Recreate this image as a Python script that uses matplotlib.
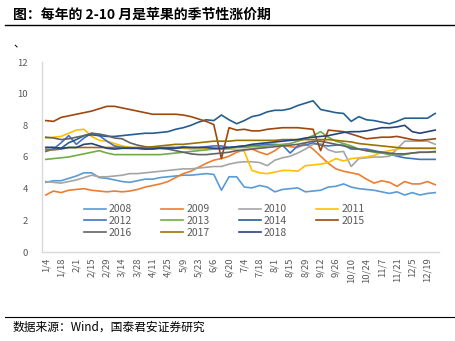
import matplotlib
matplotlib.use("Agg")
import matplotlib.pyplot as plt
from matplotlib.lines import Line2D

plt.rcParams['font.family'] = ['Noto Sans CJK SC', 'DejaVu Sans']

weeks = ["1/4", "1/11", "1/18", "1/25", "2/1", "2/8", "2/15", "2/22", "2/29", "3/7",
         "3/14", "3/21", "3/28", "4/4", "4/11", "4/18", "4/25", "5/2", "5/9", "5/16",
         "5/23", "5/30", "6/6", "6/13", "6/20", "6/27", "7/4", "7/11", "7/18", "7/25",
         "8/1", "8/8", "8/15", "8/22", "8/29", "9/5", "9/12", "9/19", "9/26", "10/3",
         "10/10", "10/17", "10/24", "10/31", "11/7", "11/14", "11/21", "11/28", "12/5", "12/12",
         "12/19", "12/26"]

y2008 = [4.4, 4.5, 4.5, 4.65, 4.8, 5.0, 5.0, 4.7, 4.65, 4.55, 4.45, 4.4, 4.5, 4.6, 4.6, 4.7,
         4.75, 4.8, 4.85, 4.85, 4.9, 4.95, 4.9, 3.9, 4.75, 4.75, 4.1, 4.05, 4.2, 4.1, 3.8, 3.95,
         4.0, 4.05, 3.8, 3.85, 3.9, 4.1, 4.15, 4.3, 4.1, 4.0, 3.95, 3.9, 3.8, 3.7, 3.8, 3.6,
         3.75, 3.6, 3.7, 3.75]
y2009 = [3.6, 3.85, 3.75, 3.9, 3.95, 4.0, 3.9, 3.85, 3.8, 3.85, 3.8, 3.85, 3.95, 4.1, 4.2, 4.3,
         4.45, 4.7, 4.95, 5.1, 5.35, 5.6, 5.8, 5.9, 6.05, 6.3, 6.45, 6.5, 6.3, 6.15, 6.4, 6.75,
         6.65, 6.6, 6.85, 6.5, 6.05, 5.6, 5.25, 5.1, 5.0, 4.9, 4.6, 4.35, 4.5, 4.4, 4.15, 4.45,
         4.3, 4.3, 4.45, 4.25]
y2010 = [4.45, 4.4, 4.35, 4.45, 4.55, 4.7, 4.85, 4.75, 4.75, 4.8, 4.85, 4.95, 4.95, 5.0, 5.05, 5.1,
         5.15, 5.2, 5.25, 5.25, 5.3, 5.35, 5.4, 5.4, 5.55, 5.65, 5.7, 5.7, 5.65, 5.45, 5.8, 5.95,
         6.05, 6.25, 6.5, 6.8, 6.85, 6.45, 6.3, 6.35, 5.4, 5.9, 5.95, 6.0, 6.0, 6.05, 6.5, 7.0,
         7.0, 7.0, 7.0, 6.8]
y2011 = [7.2, 7.25, 7.3, 7.5, 7.7, 7.75, 7.3, 7.05, 7.0, 6.85, 6.7, 6.6, 6.55, 6.5, 6.55, 6.55,
         6.6, 6.6, 6.55, 6.5, 6.5, 6.55, 6.55, 6.5, 6.5, 6.45, 6.35, 5.15, 5.0, 4.95, 5.05, 5.15,
         5.15, 5.1, 5.45, 5.5, 5.55, 5.65, 5.9, 5.75, 5.9, 5.95, 6.0, 6.1, 6.3, 6.4, 6.5, 6.55,
         6.55, 6.55, 6.55, 6.55]
y2012 = [6.35, 6.5, 6.9, 7.35, 6.8, 7.2, 7.5, 7.35, 7.0, 6.7, 6.6, 6.55, 6.55, 6.55, 6.55, 6.6,
         6.6, 6.6, 6.65, 6.6, 6.6, 6.65, 6.7, 6.7, 6.6, 6.65, 6.7, 6.7, 6.75, 6.8, 6.8, 6.75,
         6.25, 6.7, 6.75, 6.9, 6.75, 6.7, 6.75, 6.75, 6.5, 6.5, 6.5, 6.4, 6.3, 6.2, 6.05, 5.95,
         5.9, 5.85, 5.85, 5.85]
y2013 = [5.85, 5.9, 5.95, 6.0, 6.1, 6.2, 6.3, 6.4, 6.25, 6.15, 6.15, 6.15, 6.15, 6.15, 6.15, 6.15,
         6.2, 6.25, 6.3, 6.35, 6.4, 6.45, 6.5, 6.5, 6.55, 6.6, 6.6, 6.65, 6.65, 6.7, 6.75, 6.8,
         6.85, 7.0, 7.15, 7.35, 7.6, 7.25, 7.0, 6.85, 6.7, 6.5, 6.4, 6.3, 6.25, 6.15, 6.1, 6.15,
         6.25, 6.3, 6.3, 6.3]
y2014 = [6.6, 6.6, 6.55, 6.9, 7.1, 7.35, 7.4, 7.35, 7.3, 7.3, 7.35, 7.4, 7.45, 7.5, 7.5, 7.55,
         7.6, 7.75, 7.85, 8.0, 8.2, 8.35, 8.3, 8.65, 8.35, 8.1, 8.3, 8.55, 8.65, 8.85, 8.95, 8.95,
         9.05, 9.25, 9.4, 9.55, 9.0, 8.9, 8.8, 8.75, 8.25, 8.55, 8.35, 8.3, 8.2, 8.1, 8.25, 8.45,
         8.45, 8.45, 8.45, 8.75]
y2015 = [8.3, 8.25, 8.5, 8.6, 8.7, 8.8, 8.9, 9.05, 9.2, 9.2, 9.1, 9.0, 8.9, 8.8, 8.7, 8.7,
         8.7, 8.7, 8.65, 8.55, 8.4, 8.25, 8.05, 5.9, 7.85, 7.7, 7.75, 7.65, 7.65, 7.75, 7.8, 7.85,
         7.85, 7.85, 7.8, 7.75, 6.4, 7.7, 7.65, 7.6, 7.45, 7.3, 7.15, 7.2, 7.25, 7.25, 7.3, 7.2,
         7.1, 7.05, 7.1, 7.15]
y2016 = [7.25, 7.2, 7.1, 7.15, 7.25, 7.35, 7.5, 7.45, 7.35, 7.2, 7.15, 6.9, 6.75, 6.65, 6.6, 6.55,
         6.5, 6.4, 6.3, 6.2, 6.15, 6.15, 6.2, 6.25, 6.3, 6.4, 6.45, 6.5, 6.55, 6.6, 6.65, 6.7,
         6.75, 6.8, 6.9, 7.0, 7.0, 6.9, 6.8, 6.7, 6.6, 6.5, 6.4, 6.35, 6.3, 6.25, 6.2, 6.2,
         6.25, 6.3, 6.3, 6.35]
y2017 = [6.45, 6.45, 6.5, 6.6, 6.6, 6.6, 6.6, 6.6, 6.6, 6.6, 6.6, 6.6, 6.6, 6.6, 6.65, 6.7,
         6.75, 6.8, 6.8, 6.85, 6.9, 6.95, 7.0, 7.0, 7.0, 7.05, 7.05, 7.05, 7.05, 7.05, 7.05, 7.1,
         7.1, 7.1, 7.1, 7.1, 7.1, 7.1, 7.05, 7.0, 6.95, 6.85, 6.8, 6.75, 6.7, 6.65, 6.6, 6.55,
         6.55, 6.55, 6.55, 6.55]
y2018 = [6.6, 6.6, 6.55, 6.6, 6.6, 6.8, 6.85, 6.7, 6.55, 6.5, 6.55, 6.55, 6.55, 6.5, 6.5, 6.55,
         6.55, 6.55, 6.6, 6.6, 6.6, 6.6, 6.55, 6.55, 6.6, 6.65, 6.7, 6.8, 6.85, 6.9, 6.95, 7.0,
         7.05, 7.1, 7.2, 7.25, 7.3, 7.35, 7.45, 7.55, 7.6, 7.6, 7.65, 7.75, 7.85, 7.85, 7.9, 8.0,
         7.6, 7.5, 7.6, 7.7]

years = ["2008", "2009", "2010", "2011", "2012", "2013", "2014", "2015", "2016", "2017", "2018"]
series = [y2008, y2009, y2010, y2011, y2012, y2013, y2014, y2015, y2016, y2017, y2018]
colors = ["#5B9BD5", "#ED7D31", "#A5A5A5", "#FFC000", "#4472C4", "#70AD47",
          "#255E91", "#9E480E", "#636363", "#997300", "#264478"]

W, H = 455, 341
fig = plt.figure(figsize=(W / 100, H / 100), dpi=100)
ax = fig.add_axes([42 / W, 1 - 252 / H, (439 - 42) / W, (252 - 62) / H])

x = list(range(len(weeks)))
handles = []
for name, ys, c in zip(years, series, colors):
    ln, = ax.plot(x, ys, color=c, lw=1.2, label=name, solid_joinstyle='round')
    handles.append(ln)

ax.set_xlim(-0.5, len(weeks) - 0.5)
ax.set_ylim(0, 12)
ax.set_yticks([0, 2, 4, 6, 8, 10, 12])
ax.set_xticks(x[::2])
ax.set_xticklabels(weeks[::2], rotation=90)
ax.tick_params(axis='both', length=0, labelsize=6.8, colors="#595959")
ax.tick_params(axis='y', pad=10)
ax.tick_params(axis='x', pad=4)
for s in ['top', 'right']:
    ax.spines[s].set_visible(False)
for s in ['left', 'bottom']:
    ax.spines[s].set_color("#D9D9D9")
    ax.spines[s].set_linewidth(1.0)

ncol = 4
nrow = 3
order = []
for cidx in range(ncol):
    for r in range(nrow):
        i = r * ncol + cidx
        if i < len(handles):
            order.append(i)
leg = fig.legend([handles[i] for i in order], [years[i] for i in order],
                 ncol=ncol, loc='center', bbox_to_anchor=(224 / W, 1 - 221 / H),
                 frameon=False, fontsize=7.5, handlelength=2.1, handletextpad=0.3,
                 columnspacing=2.8, labelspacing=0.15)
for t in leg.get_texts():
    t.set_color("#595959")

fig.text(13 / W, 1 - 15 / H, "图：每年的 2-10 月是苹果的季节性涨价期", fontsize=10,
         fontweight='bold', ha='left', va='center', color='black')
fig.add_artist(Line2D([5 / W, 1.0], [1 - 25 / H, 1 - 25 / H], color='black', lw=1.0))
fig.text(13 / W, 1 - 44 / H, "、", fontsize=8, ha='left', va='center', color='black')
fig.add_artist(Line2D([5 / W, 1.0], [1 - 317 / H, 1 - 317 / H], color='black', lw=0.8))
fig.text(13 / W, 1 - 327 / H, "数据来源：Wind，国泰君安证券研究", fontsize=8.5,
         ha='left', va='center', color='black')

fig.savefig("out.png", dpi=100)
